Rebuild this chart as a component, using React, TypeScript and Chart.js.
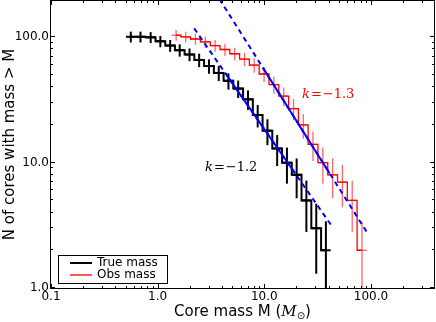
import React, { useEffect, useRef } from "react";
import { Chart, registerables } from "chart.js";

Chart.register(...registerables);

// ---- data ----
const trueMass = [0.56, 0.69, 0.86, 1.06, 1.31, 1.61, 1.99, 2.45, 3.03, 3.74, 4.61, 5.69, 7.03, 8.67, 10.7, 13.2, 16.3, 20.1, 24.8, 30.7, 37.8];
const trueCount = [101, 101, 100, 93, 86, 79, 73, 66, 59, 52, 45, 39, 32, 24, 18, 13, 10, 8, 5, 3, 2];
const trueErr = [10.0, 10.0, 10.0, 9.6, 9.3, 8.9, 8.5, 8.1, 7.7, 7.2, 6.7, 6.2, 5.7, 4.9, 4.2, 3.6, 3.2, 2.8, 2.2, 1.7, 1.4];

const obsMass = [1.49, 1.83, 2.26, 2.8, 3.46, 4.27, 5.28, 6.52, 8.05, 9.95, 12.3, 15.2, 18.8, 23.2, 28.6, 35.4, 43.7, 54.0, 66.7, 82.4];
const obsCount = [104, 101, 97, 92, 86, 80, 74, 67, 60, 51, 42, 34, 27, 20, 14, 10, 8, 7, 5, 2];
const obsErr = [10.2, 10.0, 9.8, 9.6, 9.3, 8.9, 8.6, 8.2, 7.7, 7.1, 6.5, 5.8, 5.2, 4.5, 3.7, 3.2, 2.8, 2.6, 2.2, 1.4];

const fitTrueMass = [2.2, 44];
const fitTrueN = [117.8, 3.03];
const fitTrueSolidMass = [4.3, 19.4];
const fitTrueSolidN = [51.9, 8.24];

const fitObsMass = [3.8, 91];
const fitObsN = [201.8, 2.81];
const fitObsSolidMass = [9.7, 41];
const fitObsSolidN = [57.2, 8.21];

const xTickValues = [0.1, 1, 10, 100];
const xTickLabels = ["0.1", "1.0", "10.0", "100.0"];
const yTickValues = [1, 10, 100];
const yTickLabels = ["1.0", "10.0", "100.0"];

const X_MIN = 0.1, X_MAX = 390, Y_MIN = 1, Y_MAX = 195;

const legendLabels = ["True mass", "Obs mass"];
const slopeLabels = ["\u22121.3", "\u22121.2"];

const toPts = (xs: number[], ys: number[]) => xs.map((x, i) => ({ x, y: ys[i] }));

function drawErrorBars(chart: any, xs: number[], ys: number[], es: number[], color: string, width: number) {
  const { ctx, chartArea: a, scales } = chart;
  const sx = scales.x, sy = scales.y;
  ctx.save();
  ctx.beginPath();
  ctx.rect(a.left, a.top, a.right - a.left, a.bottom - a.top);
  ctx.clip();
  ctx.strokeStyle = color;
  ctx.lineWidth = width;
  const px = xs.map((v) => sx.getPixelForValue(v));
  for (let i = 0; i < xs.length; i++) {
    const x = px[i];
    const y = sy.getPixelForValue(ys[i]);
    const lo = ys[i] - es[i];
    const yTop = sy.getPixelForValue(ys[i] + es[i]);
    const yBot = lo > 0 ? sy.getPixelForValue(lo) : a.bottom + 5;
    const hl = i > 0 ? (x - px[i - 1]) / 2 : (px[i + 1] - x) / 2;
    const hr = i < xs.length - 1 ? (px[i + 1] - x) / 2 : (x - px[i - 1]) / 2;
    ctx.beginPath();
    ctx.moveTo(x, yTop);
    ctx.lineTo(x, yBot);
    ctx.stroke();
    ctx.beginPath();
    ctx.moveTo(x - hl, y);
    ctx.lineTo(x + hr, y);
    ctx.stroke();
  }
  ctx.restore();
}

function minorValues(min: number, max: number) {
  const out: number[] = [];
  for (let d = Math.floor(Math.log10(min)); d <= Math.ceil(Math.log10(max)); d++) {
    for (let m = 2; m <= 9; m++) {
      const v = m * Math.pow(10, d);
      if (v > min && v < max) out.push(v);
    }
  }
  return out;
}

const decorPlugin = {
  id: "decor",
  afterDatasetDraw(chart: any, args: any) {
    if (args.index === 4) drawErrorBars(chart, trueMass, trueCount, trueErr, "#000000", 2);
    if (args.index === 5) drawErrorBars(chart, obsMass, obsCount, obsErr, "rgba(255,0,0,0.6)", 1.3);
  },
  afterDraw(chart: any) {
    const { ctx, chartArea: a, scales } = chart;
    const sx = scales.x, sy = scales.y;
    ctx.save();
    // frame
    ctx.strokeStyle = "#000";
    ctx.lineWidth = 1;
    ctx.strokeRect(a.left - 0.5, a.top - 0.5, a.right - a.left + 1, a.bottom - a.top + 1);
    // ticks
    const tick = (x1: number, y1: number, x2: number, y2: number) => {
      ctx.beginPath(); ctx.moveTo(x1, y1); ctx.lineTo(x2, y2); ctx.stroke();
    };
    const xMajor = xTickValues.filter((v) => v >= X_MIN && v <= X_MAX);
    const yMajor = yTickValues.filter((v) => v >= Y_MIN && v <= Y_MAX);
    xMajor.forEach((v) => {
      const x = Math.round(sx.getPixelForValue(v)) + 0.5;
      tick(x, a.bottom, x, a.bottom - 4);
      tick(x, a.top, x, a.top + 4);
    });
    minorValues(X_MIN, X_MAX).forEach((v) => {
      const x = Math.round(sx.getPixelForValue(v)) + 0.5;
      tick(x, a.bottom, x, a.bottom - 2);
      tick(x, a.top, x, a.top + 2);
    });
    yMajor.forEach((v) => {
      const y = Math.round(sy.getPixelForValue(v)) - 0.5;
      tick(a.left, y, a.left + 4, y);
      tick(a.right, y, a.right - 4, y);
    });
    minorValues(Y_MIN, Y_MAX).forEach((v) => {
      const y = Math.round(sy.getPixelForValue(v)) - 0.5;
      tick(a.left, y, a.left + 2, y);
      tick(a.right, y, a.right - 2, y);
    });
    // tick labels
    ctx.fillStyle = "#000";
    ctx.font = "12px 'DejaVu Sans'";
    ctx.textAlign = "center";
    ctx.textBaseline = "middle";
    xTickValues.forEach((v, i) => {
      ctx.fillText(xTickLabels[i], sx.getPixelForValue(v), a.bottom + 9);
    });
    ctx.textAlign = "right";
    yTickValues.forEach((v, i) => {
      ctx.fillText(yTickLabels[i], a.left - 2, sy.getPixelForValue(v));
    });
    // y title
    ctx.save();
    ctx.translate(10, (a.top + a.bottom) / 2);
    ctx.rotate(-Math.PI / 2);
    ctx.textAlign = "center";
    ctx.textBaseline = "middle";
    ctx.font = "15px 'DejaVu Sans'";
    ctx.fillText("N of cores with mass > M", 0, 0);
    ctx.restore();
    // x title with math part
    const parts = [
      { t: "Core mass M (", f: "15px 'DejaVu Sans'", dy: 0 },
      { t: "M", f: "italic 15px 'DejaVu Serif'", dy: 0 },
      { t: "\u2299", f: "10px 'DejaVu Sans'", dy: 3 },
      { t: ")", f: "15px 'DejaVu Sans'", dy: 0 },
    ];
    let total = 0;
    parts.forEach((p) => { ctx.font = p.f; total += ctx.measureText(p.t).width; });
    let cx = (a.left + a.right) / 2 - total / 2;
    ctx.textAlign = "left";
    ctx.textBaseline = "alphabetic";
    parts.forEach((p) => {
      ctx.font = p.f;
      ctx.fillText(p.t, cx, 316 + p.dy);
      cx += ctx.measureText(p.t).width;
    });
    // slope labels
    const drawK = (x: number, y: number, val: string, color: string) => {
      ctx.fillStyle = color;
      ctx.textBaseline = "middle";
      ctx.textAlign = "left";
      ctx.font = "italic 13px 'DejaVu Serif'";
      ctx.fillText("k", x, y);
      let px = x + ctx.measureText("k").width + 1;
      ctx.font = "13px 'DejaVu Serif'";
      ctx.fillText("=", px, y);
      px += ctx.measureText("=").width + 1;
      ctx.fillText(val, px, y);
    };
    drawK(302, 95, slopeLabels[0], "#ff0000");
    drawK(205, 168, slopeLabels[1], "#000000");
    // legend
    const lx = 58.5, ly = 255.5, lw = 109, lh = 28;
    ctx.fillStyle = "#fff";
    ctx.fillRect(lx, ly, lw, lh);
    ctx.strokeStyle = "#000";
    ctx.lineWidth = 1;
    ctx.strokeRect(lx, ly, lw, lh);
    const rows = [
      { c: "#000000", w: 2, y: 263 },
      { c: "#ff0000", w: 1.3, y: 275 },
    ];
    rows.forEach((r, i) => {
      ctx.strokeStyle = r.c;
      ctx.lineWidth = r.w;
      ctx.beginPath(); ctx.moveTo(70, r.y); ctx.lineTo(92, r.y); ctx.stroke();
      ctx.fillStyle = "#000";
      ctx.font = "12px 'DejaVu Sans'";
      ctx.textAlign = "left";
      ctx.textBaseline = "middle";
      ctx.fillText(legendLabels[i], 97, r.y);
    });
    ctx.restore();
  },
};

export default function App() {
  const ref = useRef<HTMLCanvasElement | null>(null);
  useEffect(() => {
    if (!ref.current) return;
    const blue = "#0000ff";
    const chart = new Chart(ref.current, {
      type: "line",
      data: {
        datasets: [
          { data: toPts(fitObsMass, fitObsN), borderColor: blue, borderWidth: 2, borderDash: [5, 4], pointRadius: 0, order: 0 },
          { data: toPts(fitObsSolidMass, fitObsSolidN), borderColor: blue, borderWidth: 2, pointRadius: 0, order: 0 },
          { data: toPts(fitTrueMass, fitTrueN), borderColor: blue, borderWidth: 2, borderDash: [5, 4], pointRadius: 0, order: 0 },
          { data: toPts(fitTrueSolidMass, fitTrueSolidN), borderColor: blue, borderWidth: 2, pointRadius: 0, order: 0 },
          { data: toPts(trueMass, trueCount), borderColor: "#000000", borderWidth: 2, stepped: "middle", pointRadius: 0, order: 2 },
          { data: toPts(obsMass, obsCount), borderColor: "#ff0000", borderWidth: 1.3, stepped: "middle", pointRadius: 0, order: 1 },
        ] as any,
      },
      options: {
        animation: false,
        responsive: false,
        devicePixelRatio: 1,
        layout: { padding: { left: 51, right: 2, top: 1, bottom: 34 } },
        scales: {
          x: { type: "logarithmic", min: X_MIN, max: X_MAX, display: false },
          y: { type: "logarithmic", min: Y_MIN, max: Y_MAX, display: false },
        },
        plugins: { legend: { display: false }, tooltip: { enabled: false } },
        events: [],
      },
      plugins: [decorPlugin],
    });
    return () => chart.destroy();
  }, []);
  return (
    <div style={{ position: "absolute", left: 0, top: 0, width: 436, height: 322, background: "#fff" }}>
      <canvas ref={ref} width={436} height={322} />
    </div>
  );
}
